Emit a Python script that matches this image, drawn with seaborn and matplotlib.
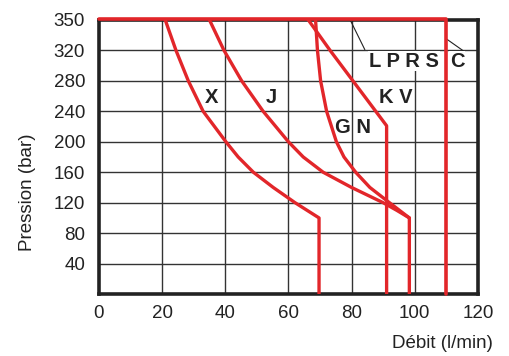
import numpy as np
import matplotlib
matplotlib.use("Agg")
import matplotlib.pyplot as plt
import seaborn as sns

# Pump curves: flow (l/min) vs pressure (bar)
x_flow = [21, 24.4, 28.3, 33.0, 40.2, 44.1, 48.9, 55.2, 62.1, 69.7, 69.7]
x_pres = [350, 320, 280, 240, 200, 180, 160, 140, 120, 100, 0]

j_flow = [35, 39.6, 45.2, 52.0, 60.0, 64.7, 71.0, 80.0, 90.0, 94.3, 98.3, 98.3]
j_pres = [350, 320, 280, 240, 200, 180, 160, 140, 120, 110, 100, 0]

gn_flow = [68.6, 69.2, 70.2, 72.1, 75.2, 77.6, 81.3, 85.8, 92.0, 98.3]
gn_pres = [350, 320, 280, 240, 200, 180, 160, 140, 120, 100]

kv_flow = [66.3, 73.2, 91.1, 91.1]
kv_pres = [350, 320, 221, 0]

c_flow = [0, 110, 110]
c_pres = [350, 350, 0]

y_ticks = [40, 80, 120, 160, 200, 240, 280, 320, 350]
x_ticks = [0, 20, 40, 60, 80, 100, 120]

labels = ["X", "J", "G N", "K V", "L P R S", "C"]
label_flow = [35.7, 54.7, 80.5, 94.0, 96.6, 113.5]
label_pres = [258.7, 258.7, 219, 258.7, 306, 306]


def yp(p):
    # top band 320-350 is drawn as tall as the 40 bar rows
    p = np.asarray(p, dtype=float)
    return np.where(p <= 320, p, 320 + (p - 320) * 40 / 30)


sns.set_theme(style="white")
plt.rcParams['font.family'] = ['Liberation Sans', 'DejaVu Sans']

fig = plt.figure(figsize=(5.1, 3.56), dpi=100)
ax = fig.add_axes([0.194, 0.174, 0.743, 0.770])

red = "#e2262a"
for fl, pr in [(x_flow, x_pres), (j_flow, j_pres), (gn_flow, gn_pres), (kv_flow, kv_pres)]:
    sns.lineplot(x=fl, y=yp(pr), sort=False, estimator=None, color=red, lw=2.4, ax=ax, zorder=3,
                 solid_joinstyle="round")
ax.plot(c_flow, yp(c_pres) + np.array([1.2, 1.2, 0]), color=red, lw=2.6, zorder=4, clip_on=False)

ax.set_xlim(0, 120)
ax.set_ylim(0, 360)
ax.set_xticks(x_ticks)
ax.set_yticks(yp(y_ticks))
ax.set_yticklabels([str(v) for v in y_ticks])
ax.tick_params(length=0, labelsize=13.5, colors="#222222", pad=8)
ax.tick_params(axis="y", pad=10)

for v in x_ticks[1:-1]:
    ax.axvline(v, color="#333333", lw=1.0, zorder=1)
for v in y_ticks[:-1]:
    ax.axhline(yp(v), color="#333333", lw=1.0, zorder=1)

for s in ax.spines.values():
    s.set_visible(True)
    s.set_color("#222222")
    s.set_linewidth(2.6)

# leader lines
ax.plot([79.6, 84.2], [359.7, 321.0], color="#222222", lw=0.8, zorder=2)
ax.plot([110.1, 115.4], [334.9, 319.4], color="#222222", lw=0.8, zorder=2)

for t, fx, py in zip(labels, label_flow, label_pres):
    ax.text(fx, yp(py), t, ha="center", va="center", fontsize=14.5, fontweight="bold",
            color="#222222", zorder=5,
            bbox=dict(facecolor="white", edgecolor="none", pad=0.5) if t in ("L P R S", "C") else None)

ax.set_xlabel("Débit (l/min)", fontsize=13.5, color="#222222")
ax.xaxis.set_label_coords(1.04, -0.15)
ax.xaxis.label.set_ha("right")
ax.set_ylabel("Pression (bar)", fontsize=13.5, color="#222222")
ax.yaxis.set_label_coords(-0.165, 0.37)

fig.savefig("out.png", dpi=100)
